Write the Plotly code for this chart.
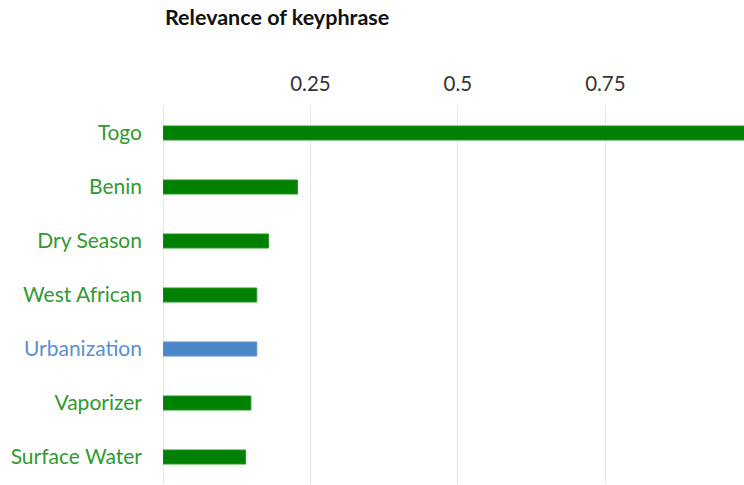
import plotly.graph_objects as go

keyphrases = ["Togo", "Benin", "Dry Season", "West African", "Urbanization", "Vaporizer", "Surface Water"]
relevance = [1.0, 0.228, 0.179, 0.159, 0.159, 0.149, 0.140]
highlighted = ["Urbanization"]
x_ticks = [0.25, 0.5, 0.75]
x_tick_labels = ["0.25", "0.5", "0.75"]

GREEN = "#008000"
GREEN_LINE = "#2a9a2a"
GREEN_TEXT = "#2f9a2f"
BLUE = "#4a86c8"
BLUE_LINE = "#5b93d0"
BLUE_TEXT = "#5b8fd0"

bar_colors = [BLUE if k in highlighted else GREEN for k in keyphrases]
line_colors = [BLUE_LINE if k in highlighted else GREEN_LINE for k in keyphrases]
tick_text = [
    f'<span style="color:{BLUE_TEXT if k in highlighted else GREEN_TEXT}">{k}</span>'
    for k in keyphrases
]

FONT = "Lato, Open Sans, sans-serif"

fig = go.Figure(
    go.Bar(
        x=relevance,
        y=keyphrases,
        orientation="h",
        width=0.26,
        marker=dict(color=bar_colors, line=dict(color=line_colors, width=1)),
        hoverinfo="skip",
    )
)

fig.update_layout(
    width=744,
    height=485,
    margin=dict(l=163, r=0, t=106, b=1),
    plot_bgcolor="white",
    paper_bgcolor="white",
    font=dict(family=FONT),
    showlegend=False,
    annotations=[
        dict(
            text="<b>Relevance of keyphrase</b>",
            xref="paper", yref="paper",
            x=0, y=1, xanchor="left", yanchor="bottom",
            xshift=0,
            yshift=74,
            showarrow=False,
            font=dict(size=21.5, color="#111111", family=FONT),
        )
    ],
)

fig.update_xaxes(
    side="top",
    range=[0, 0.985],
    tickvals=x_ticks,
    ticktext=x_tick_labels,
    showgrid=True,
    gridcolor="#e6e6e6",
    gridwidth=1,
    zeroline=True,
    zerolinecolor="#e6e6e6",
    zerolinewidth=1,
    showline=False,
    ticks="",
    ticklabelstandoff=10,
    tickfont=dict(size=20.5, color="#333333"),
    fixedrange=True,
)

fig.update_yaxes(
    categoryorder="array",
    categoryarray=keyphrases,
    tickvals=keyphrases,
    ticktext=tick_text,
    autorange="reversed",
    showgrid=False,
    zeroline=False,
    showline=False,
    ticks="",
    ticklabelstandoff=20,
    tickfont=dict(size=21),
    fixedrange=True,
)

fig.write_html(
    "out.html",
    config={"displayModeBar": False},
    post_script="document.body.style.margin='0';document.body.style.overflow='hidden';",
)
